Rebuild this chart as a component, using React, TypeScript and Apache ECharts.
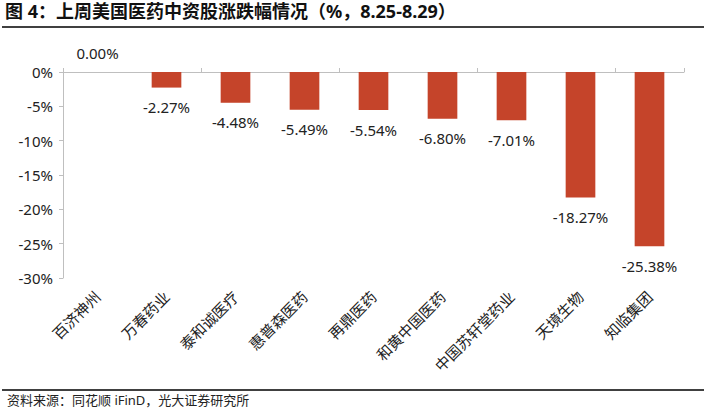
import React, { useEffect, useRef } from "react";
import * as echarts from "echarts";

const categories = ["百济神州", "万春药业", "泰和诚医疗", "惠普森医药", "再鼎医药", "和黄中国医药", "中国苏轩堂药业", "天境生物", "知临集团"];
const values = [0.0, -2.27, -4.48, -5.49, -5.54, -6.8, -7.01, -18.27, -25.38];
const yTicks = { min: -30, max: 0, interval: 5 };
const titleText = "图 4：上周美国医药中资股涨跌幅情况（%，8.25-8.29）";
const sourceText = "资料来源：同花顺 iFinD，光大证券研究所";

const FONT = "'Noto Sans', 'Noto Sans CJK SC', sans-serif";

export default function App() {
  const ref = useRef<HTMLDivElement>(null);
  useEffect(() => {
    if (!ref.current) return;
    const chart = echarts.init(ref.current, undefined, { renderer: "svg" });
    chart.setOption({
      animation: false,
      backgroundColor: "#ffffff",
      grid: { left: 63, right: 22, top: 72, bottom: 136, containLabel: false },
      xAxis: [
        {
          type: "category",
          data: categories,
          position: "top",
          axisLine: { show: true, lineStyle: { color: "#BFBFBF", width: 1 } },
          axisTick: { show: true, length: 4, lineStyle: { color: "#BFBFBF" } },
          axisLabel: { show: false },
        },
        {
          type: "category",
          data: categories,
          position: "bottom",
          axisLine: { show: false },
          axisTick: { show: false },
          axisLabel: {
            show: true,
            rotate: 45,
            margin: 16,
            color: "#222222",
            fontSize: 15,
            fontFamily: FONT,
          },
        },
      ],
      yAxis: {
        type: "value",
        min: yTicks.min,
        max: yTicks.max,
        interval: yTicks.interval,
        axisLine: { show: true, lineStyle: { color: "#BFBFBF", width: 1 } },
        axisTick: { show: true, length: 4, lineStyle: { color: "#BFBFBF" } },
        splitLine: { show: false },
        axisLabel: {
          formatter: (v: number) => `${v}%`,
          color: "#222222",
          fontSize: 15,
          fontFamily: FONT,
          margin: 10,
        },
      },
      series: [
        {
          type: "bar",
          xAxisIndex: 0,
          data: values.map((v) => ({
            value: v,
            label: { position: v >= 0 ? "top" : "bottom" },
          })),
          barWidth: "43%",
          itemStyle: { color: "#C5442A" },
          label: {
            show: true,
            distance: 12,
            formatter: (p: any) => `${Number(p.value).toFixed(2)}%`,
            color: "#222222",
            fontSize: 15,
            fontFamily: FONT,
          },
        },
      ],
      graphic: [
        {
          type: "text",
          left: 5,
          top: 2,
          style: {
            text: titleText,
            font: `bold 18px ${FONT}`,
            fill: "#111111",
          },
        },
        {
          type: "line",
          shape: { x1: 2, y1: 27, x2: 704, y2: 27 },
          style: { stroke: "#000000", lineWidth: 1.5 },
        },
        {
          type: "line",
          shape: { x1: 2, y1: 390, x2: 704, y2: 390 },
          style: { stroke: "#000000", lineWidth: 1.5 },
        },
        {
          type: "text",
          left: 7,
          top: 393,
          style: {
            text: sourceText,
            font: `13px ${FONT}`,
            fill: "#222222",
          },
        },
      ],
    });
    return () => chart.dispose();
  }, []);
  return (
    <div
      ref={ref}
      style={{ position: "fixed", left: 0, top: 0, width: 706, height: 414 }}
    />
  );
}
